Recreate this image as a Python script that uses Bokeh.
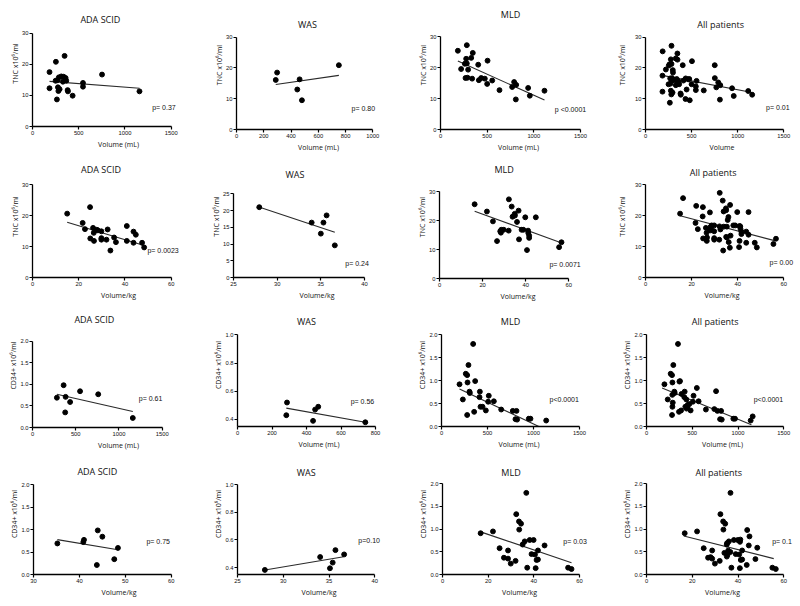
from bokeh.plotting import figure
from bokeh.layouts import column, row
from bokeh.models import FixedTicker, NumeralTickFormatter, Range1d, Label
from bokeh.embed import file_html
from bokeh.resources import INLINE

# ---------------- data ----------------
# TNC (x10^6/ml) vs collected volume (mL)
ada_tnc_vol_x = [184, 184, 253, 347, 250, 271, 285, 311, 336, 358, 365, 329, 275, 293, 280, 264, 380, 383, 434, 546, 546, 752, 1157]
ada_tnc_vol_y = [17.5, 12.3, 20.8, 22.7, 14.7, 14.9, 15.8, 16.1, 16.0, 15.6, 14.7, 14.4, 12.6, 12.0, 11.4, 8.7, 11.7, 11.3, 9.9, 14.0, 12.8, 16.7, 11.3]
was_tnc_vol_x = [288, 298, 446, 463, 480, 751]
was_tnc_vol_y = [16.1, 18.5, 13.0, 16.3, 9.5, 20.9]
mld_tnc_vol_x = [186, 221, 261, 282, 282, 275, 268, 289, 296, 329, 346, 339, 404, 411, 436, 475, 504, 500, 554, 632, 768, 789, 811, 807, 939, 957, 1114]
mld_tnc_vol_y = [25.4, 19.5, 21.2, 27.2, 21.3, 22.8, 16.6, 16.7, 19.3, 23.1, 24.7, 16.4, 20.9, 15.9, 16.6, 16.4, 22.2, 14.7, 15.8, 12.7, 13.7, 15.3, 14.4, 9.7, 13.4, 10.9, 12.5]

# TNC vs volume/kg
ada_tnc_kg_x = [15.0, 21.7, 22.7, 24.9, 25.0, 26.2, 26.5, 26.6, 27.8, 28.3, 29.8, 29.8, 29.8, 32.0, 32.5, 33.7, 35.3, 36.1, 40.8, 40.8, 43.7, 43.7, 44.7, 47.4, 48.3]
ada_tnc_kg_y = [20.6, 17.6, 15.6, 22.7, 12.6, 16.0, 14.4, 11.8, 15.4, 15.2, 14.9, 12.7, 12.2, 12.2, 15.5, 8.7, 12.9, 11.4, 16.6, 11.8, 14.8, 11.2, 13.8, 11.2, 9.7]
was_tnc_kg_x = [27.95, 33.95, 35.0, 35.3, 35.66, 36.6]
was_tnc_kg_y = [21.0, 16.4, 13.1, 16.4, 18.55, 9.6]
mld_tnc_kg_x = [16.3, 22.0, 24.8, 26.7, 28.2, 28.7, 28.5, 29.8, 32.1, 32.2, 33.5, 33.9, 34.9, 35.0, 35.97, 36.7, 36.9, 38.1, 38.9, 39.8, 40.6, 41.1, 41.2, 41.6, 41.6, 44.7, 55.5, 56.6]
mld_tnc_kg_y = [25.6, 23.1, 19.7, 12.9, 16.3, 16.8, 15.8, 16.8, 16.5, 27.3, 24.8, 21.3, 22.3, 21.7, 19.5, 23.4, 13.5, 16.8, 16.8, 21.1, 9.8, 16.5, 15.7, 14.8, 14.0, 21.1, 10.8, 12.5]

# CD34+ (x10^6/ml) vs collected volume (mL)
ada_cd_vol_x = [282, 360, 383, 378, 435, 550, 760, 1160]
ada_cd_vol_y = [0.69, 0.98, 0.71, 0.35, 0.59, 0.84, 0.77, 0.22]
was_cd_vol_x = [283, 287, 438, 450, 468, 741]
was_cd_vol_y = [0.43, 0.52, 0.39, 0.47, 0.49, 0.38]
mld_cd_vol_x = [196, 232, 264, 279, 283, 279, 293, 304, 308, 344, 355, 366, 417, 413, 424, 446, 482, 514, 507, 569, 649, 775, 815, 804, 822, 949, 967, 1138]
mld_cd_vol_y = [0.92, 0.59, 1.15, 1.12, 0.96, 0.25, 1.34, 0.76, 0.73, 1.80, 0.32, 0.99, 0.76, 0.64, 0.43, 0.43, 0.35, 0.67, 0.54, 0.55, 0.37, 0.34, 0.34, 0.16, 0.15, 0.17, 0.17, 0.13]

# CD34+ vs volume/kg
ada_cd_kg_x = [35.2, 40.85, 41.0, 44.0, 43.8, 45.0, 47.6, 48.4]
ada_cd_kg_y = [0.69, 0.72, 0.77, 0.98, 0.21, 0.84, 0.34, 0.59]
was_cd_kg_x = [27.99, 34.03, 35.1, 35.4, 35.7, 36.65]
was_cd_kg_y = [0.383, 0.476, 0.395, 0.436, 0.526, 0.495]
mld_cd_kg_x = [16.7, 22.1, 25.0, 26.9, 28.7, 28.7, 29.9, 32.0, 32.3, 33.5, 34.4, 33.6, 35.1, 36.0, 36.7, 37.1, 38.2, 39.0, 39.9, 40.5, 40.8, 41.2, 41.8, 41.8, 44.7, 55.0, 56.5]
mld_cd_kg_y = [0.91, 0.95, 0.58, 0.37, 0.53, 0.35, 0.24, 0.30, 1.33, 1.17, 1.12, 0.99, 0.66, 0.73, 1.80, 0.15, 0.76, 0.45, 0.76, 0.44, 0.14, 0.32, 0.33, 0.53, 0.64, 0.15, 0.12]

# regression lines (end points)
fit = {
    "ada_tnc_vol": ([184, 1157], [14.5, 12.3]),
    "was_tnc_vol": ([288, 751], [14.6, 17.6]),
    "mld_tnc_vol": ([186, 1114], [22.1, 9.5]),
    "all_tnc_vol": ([180, 1157], [17.6, 12.0]),
    "ada_tnc_kg": ([15, 48.3], [17.8, 10.3]),
    "was_tnc_kg": ([28, 36.6], [21.0, 13.5]),
    "mld_tnc_kg": ([16.3, 56.4], [23.2, 12.3]),
    "all_tnc_kg": ([15, 56], [19.9, 11.9]),
    "ada_cd_vol": ([282, 1160], [0.77, 0.37]),
    "was_cd_vol": ([283, 741], [0.48, 0.38]),
    "mld_cd_vol": ([196, 1058], [0.82, 0.0]),
    "all_cd_vol": ([170, 1146], [0.84, 0.04]),
    "ada_cd_kg": ([35.2, 48.4], [0.775, 0.55]),
    "was_cd_kg": ([28, 36.6], [0.383, 0.478]),
    "mld_cd_kg": ([16.7, 56.5], [0.94, 0.26]),
    "all_cd_kg": ([16.3, 55.6], [0.85, 0.35]),
}

p_values = {
    "ada_tnc_vol": "p= 0.37", "was_tnc_vol": "p= 0.80", "mld_tnc_vol": "p <0.0001", "all_tnc_vol": "p= 0.01",
    "ada_tnc_kg": "p= 0.0023", "was_tnc_kg": "p= 0.24", "mld_tnc_kg": "p= 0.0071", "all_tnc_kg": "p= 0.00",
    "ada_cd_vol": "p= 0.61", "was_cd_vol": "p= 0.56", "mld_cd_vol": "p<0.0001", "all_cd_vol": "p<0.0001",
    "ada_cd_kg": "p= 0.75", "was_cd_kg": "p=0.10", "mld_cd_kg": "p= 0.03", "all_cd_kg": "p= 0.1",
}

titles = ["ADA SCID", "WAS", "MLD", "All patients"]
ticks_vol = [0, 500, 1000, 1500]
ticks_vol_was = [0, 200, 400, 600, 800, 1000]
ticks_vol_was3 = [0, 200, 400, 600, 800]
ticks_kg = [0, 20, 40, 60]
ticks_kg_was = [25, 30, 35, 40]
ticks_kg_ada = [30, 40, 50, 60]
ticks_tnc = [0, 10, 20, 30]
ticks_tnc_was = [0, 5, 10, 15, 20, 25]
ticks_cd = [0, 0.5, 1.0, 1.5, 2.0]
ticks_cd_was = [0.4, 0.6, 0.8, 1.0]

groups = {
    "tnc_vol": [(ada_tnc_vol_x, ada_tnc_vol_y), (was_tnc_vol_x, was_tnc_vol_y), (mld_tnc_vol_x, mld_tnc_vol_y)],
    "tnc_kg": [(ada_tnc_kg_x, ada_tnc_kg_y), (was_tnc_kg_x, was_tnc_kg_y), (mld_tnc_kg_x, mld_tnc_kg_y)],
    "cd_vol": [(ada_cd_vol_x, ada_cd_vol_y), (was_cd_vol_x, was_cd_vol_y), (mld_cd_vol_x, mld_cd_vol_y)],
    "cd_kg": [(ada_cd_kg_x, ada_cd_kg_y), (was_cd_kg_x, was_cd_kg_y), (mld_cd_kg_x, mld_cd_kg_y)],
}

def series(measure, gi):
    if gi < 3:
        return groups[measure][gi]
    xs, ys = [], []
    for gx, gy in groups[measure]:
        xs += gx
        ys += gy
    return xs, ys

# ---------------- layout (positions / styles) ----------------
COL_X = [0, 204, 400, 596, 798]
ROW_Y = [0, 155, 303, 453, 600]
TNC_LBL = "TNC x10\u2076/ml"
CD_LBL = "CD34+ x10\u2076/ml"
prefix = ["ada", "was", "mld", "all"]

# per panel: xrange, xticks, yrange, yticks, xlabel, axis geometry on page (left, right, top, bottom),
#            title offset (dx, dy above the axis top), p-value position, y-label standoff
rows_spec = [
    ("tnc_vol", TNC_LBL, [
        ((0, 1500), ticks_vol, (0, 30), ticks_tnc, "Volume (mL)", (32.3, 170.7, 32.7, 125.7), (-1.5, 13.7), (1294, 6.1), -1),
        ((0, 1000), ticks_vol_was, (0, 30), ticks_tnc, "Volume (mL)", (235.7, 372.3, 36.7, 128.7), (2.7, 12.7), (844, 6.8), -1),
        ((0, 1500), ticks_vol, (0, 30), ticks_tnc, "Volume (mL)", (440, 580, 36, 128.7), (0, 22), (1225, 6.6), -1),
        ((0, 1500), ticks_vol, (0, 30), ticks_tnc, "Volume", (645, 783.3, 36.7, 128.7), (6, 12.7), (1308, 7.0), 5),
    ]),
    ("tnc_kg", TNC_LBL, [
        ((0, 60), ticks_kg, (0, 30), ticks_tnc, "Volume/kg", (32.3, 170.7, 184, 276.7), (-0.8, 15), (49.7, 8.8), -1),
        ((25, 40), ticks_kg_was, (0, 25), ticks_tnc_was, "Volume/kg", (233.3, 364, 193.3, 277.3), (-4, 19.3), (37.8, 4.2), -1),
        ((0, 60), ticks_kg, (0, 30), ticks_tnc, "Volume/kg", (439.3, 568.3, 191, 277.7), (0, 22), (51, 5.0), -1),
        ((0, 60), ticks_kg, (0, 30), ticks_tnc, "Volume/kg", (645, 783.3, 184, 276.7), (-1.5, 12), (53.8, 4.9), 5),
    ]),
    ("cd_vol", CD_LBL, [
        ((0, 1500), ticks_vol, (0, 2.0), ticks_cd, "Volume (mL)", (32.3, 161.7, 340.7, 426.7), (-3, 21.7), (1229, 0.67), -1),
        ((0, 800), ticks_vol_was3, (0.35, 1.0), ticks_cd_was, "Volume (mL)", (237.3, 375, 334.3, 425.7), (0, 13.6), (656, 0.53), -1),
        ((0, 1500), ticks_vol, (0, 2.0), ticks_cd, "Volume (mL)", (441, 579, 334.3, 425.7), (0, 13.6), (1174, 0.58), -1),
        ((0, 1500), ticks_vol, (0, 2.0), ticks_cd, "Volume (mL)", (646, 783.3, 334.3, 425.7), (0, 13.6), (1171, 0.58), -1),
    ]),
    ("cd_kg", CD_LBL, [
        ((30, 60), ticks_kg_ada, (0, 2.0), ticks_cd, "Volume/kg", (33.3, 170.7, 484, 574.3), (-5, 13), (54.6, 0.74), -1),
        ((25, 40), ticks_kg_was, (0.35, 1.0), ticks_cd_was, "Volume/kg", (237.3, 374.3, 484, 574.3), (0, 11.7), (38.2, 0.597), -1),
        ((0, 60), ticks_kg, (0, 2.0), ticks_cd, "Volume/kg", (441.7, 579, 483.3, 574), (0, 11), (52.9, 0.73), -1),
        ((0, 60), ticks_kg, (0, 2.0), ticks_cd, "Volume/kg", (646, 783.3, 483.3, 574), (3.6, 11), (54.9, 0.73), -1),
    ]),
]

NUM_FONT = "Liberation Sans"
TXT_FONT = "Open Sans"
INK = "#111111"

def make_panel(measure, ylabel, ri, gi, spec):
    xr, xt, yr, yt, xlabel, (gl, gr, gt, gb), (tdx, tdy), (px, py), ylab_off = spec
    key = prefix[gi] + "_" + measure
    cx0, cx1 = COL_X[gi], COL_X[gi + 1]
    ry0, ry1 = ROW_Y[ri], ROW_Y[ri + 1]
    bl = int(round(gl - cx0))
    bb = int(round(ry1 - gb))
    fw = (cx1 - cx0) - bl
    fh = (ry1 - ry0) - bb
    left, bottom = cx0 + bl, ry1 - bb
    # data scale from the axis geometry; the frame extends to the right/top edge
    xppu = (gr - left) / (xr[1] - xr[0])
    yppu = (bottom - gt) / (yr[1] - yr[0])
    x_end = xr[0] + fw / xppu
    y_end = yr[0] + fh / yppu

    p = figure(frame_width=fw, frame_height=fh,
               x_range=Range1d(xr[0], x_end), y_range=Range1d(yr[0], y_end),
               output_backend="svg", toolbar_location=None,
               min_border_left=bl, min_border_right=0, min_border_top=0, min_border_bottom=bb)
    p.title = None
    p.outline_line_color = None
    p.xgrid.visible = False
    p.ygrid.visible = False
    p.background_fill_color = "white"
    p.border_fill_color = "white"

    fx, fy = fit[key]
    p.line(fx, fy, line_color="#2a2a2a", line_width=1.1)
    xs, ys = series(measure, gi)
    p.scatter(xs, ys, marker="circle", size=4.9, fill_color="black", line_color="black")

    p.xaxis.ticker = FixedTicker(ticks=xt)
    p.yaxis.ticker = FixedTicker(ticks=yt)
    p.xaxis.bounds = xr
    p.yaxis.bounds = yr
    if measure.startswith("cd"):
        p.yaxis.formatter = NumeralTickFormatter(format="0.0")
    for ax in (p.xaxis[0], p.yaxis[0]):
        ax.axis_line_color = "black"
        ax.axis_line_width = 1.3
        ax.major_tick_line_color = "black"
        ax.major_tick_line_width = 1.2
        ax.major_tick_out = 3
        ax.major_tick_in = 0
        ax.minor_tick_line_color = None
        ax.major_label_text_font = NUM_FONT
        ax.major_label_text_font_size = "5.8px"
        ax.major_label_text_color = INK
        ax.major_label_text_line_height = 1.0
        ax.major_label_standoff = 1
        ax.axis_label_text_font = TXT_FONT
        ax.axis_label_text_font_size = "7px"
        ax.axis_label_text_font_style = "normal"
        ax.axis_label_text_color = INK
        ax.axis_label_text_line_height = 1.0
    p.xaxis.axis_label = xlabel
    p.yaxis.axis_label = ylabel
    p.xaxis.axis_label_standoff = 2
    p.yaxis.axis_label_standoff = ylab_off

    p.add_layout(Label(x=(xr[0] + xr[1]) / 2, y=yr[1], x_offset=tdx, y_offset=tdy, text=titles[gi],
                       text_align="center", text_baseline="middle", text_font=TXT_FONT,
                       text_font_size="9px", text_color=INK))
    p.add_layout(Label(x=px, y=py, text=p_values[key], text_align="left", text_baseline="middle",
                       text_font=NUM_FONT, text_font_size="7px", text_color=INK))
    return p

grid_rows = []
for ri, (measure, ylabel, specs) in enumerate(rows_spec):
    figs = [make_panel(measure, ylabel, ri, gi, specs[gi]) for gi in range(4)]
    grid_rows.append(row(*figs))

layout = column(*grid_rows)
open("out.html", "w").write(file_html(layout, INLINE))
